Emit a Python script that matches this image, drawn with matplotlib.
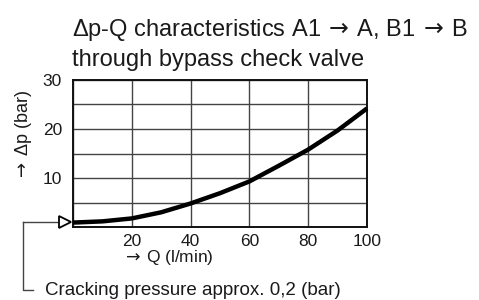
import matplotlib
matplotlib.use("Agg")
import matplotlib.pyplot as plt
from matplotlib.lines import Line2D

plt.rcParams['font.family'] = ['Liberation Sans', 'DejaVu Sans']

flow = [0, 10, 20, 30, 40, 50, 60, 70, 80, 90, 100]
dp = [0.9, 1.15, 1.75, 3.0, 4.8, 6.9, 9.3, 12.5, 15.8, 19.7, 24.2]
x_ticks = [20, 40, 60, 80, 100]
y_ticks = [10, 20, 30]
title_lines = [r"Δp-Q characteristics A1$\,\rightarrow\,$A, B1$\,\rightarrow\,$B",
               "through bypass check valve"]
x_label = r"$\rightarrow\,$Q (l/min)"
y_label = r"$\rightarrow\,$Δp (bar)"
note = "Cracking pressure approx. 0,2 (bar)"

W, H = 479, 300
TXT = "#1a1a1a"
fig = plt.figure(figsize=(W / 100, H / 100), dpi=100)
ax = fig.add_axes([73 / W, 1 - 227 / H, (367 - 73) / W, (227 - 80) / H])
ax.set_xlim(0, 100)
ax.set_ylim(0, 30)
ax.set_xticks([0] + x_ticks)
ax.set_xticklabels([""] + [str(v) for v in x_ticks])
ax.set_yticks([0, 5, 10, 15, 20, 25, 30])
lab = {v: str(v) for v in y_ticks}
ax.set_yticklabels([lab.get(v, "") for v in [0, 5, 10, 15, 20, 25, 30]])
ax.tick_params(length=0, labelsize=12.5, colors=TXT)
ax.tick_params(axis="y", pad=8)
ax.tick_params(axis="x", pad=5)
ax.grid(True, color="#444444", linewidth=1.0)
for s in ax.spines.values():
    s.set_linewidth(1.4)
    s.set_color("#111111")
ax.plot(flow, dp, color="black", linewidth=3.2, solid_capstyle="butt", clip_on=False, zorder=3)

fig.text(72 / W, 1 - 36 / H, title_lines[0], fontsize=17, color=TXT, va="baseline")
fig.text(72 / W, 1 - 66 / H, title_lines[1], fontsize=17, color=TXT, va="baseline")
fig.text(122 / W, 1 - 262 / H, x_label, fontsize=12.5, color=TXT, va="baseline")
fig.text(23 / W, 1 - 136 / H, y_label, fontsize=13, color=TXT, rotation=90,
         va="center", ha="center")

# cracking pressure annotation
y_px = 1 - 221.5 / H
fig.lines.append(Line2D([22.5 / W, 22.5 / W, 33 / W], [y_px, 1 - 290 / H, 1 - 290 / H],
                        transform=fig.transFigure, color="#444444", linewidth=1.0))
fig.lines.append(Line2D([22.5 / W, 58 / W], [y_px, y_px],
                        transform=fig.transFigure, color="#444444", linewidth=1.0))
fig.lines.append(Line2D([65 / W], [y_px], transform=fig.transFigure, marker=">",
                        markersize=8.5, markerfacecolor="white", markeredgecolor="black",
                        markeredgewidth=1.3, linestyle="none"))
fig.text(45 / W, 1 - 295 / H, note, fontsize=13.5, color=TXT, va="baseline")

fig.savefig("out.png", dpi=100)
